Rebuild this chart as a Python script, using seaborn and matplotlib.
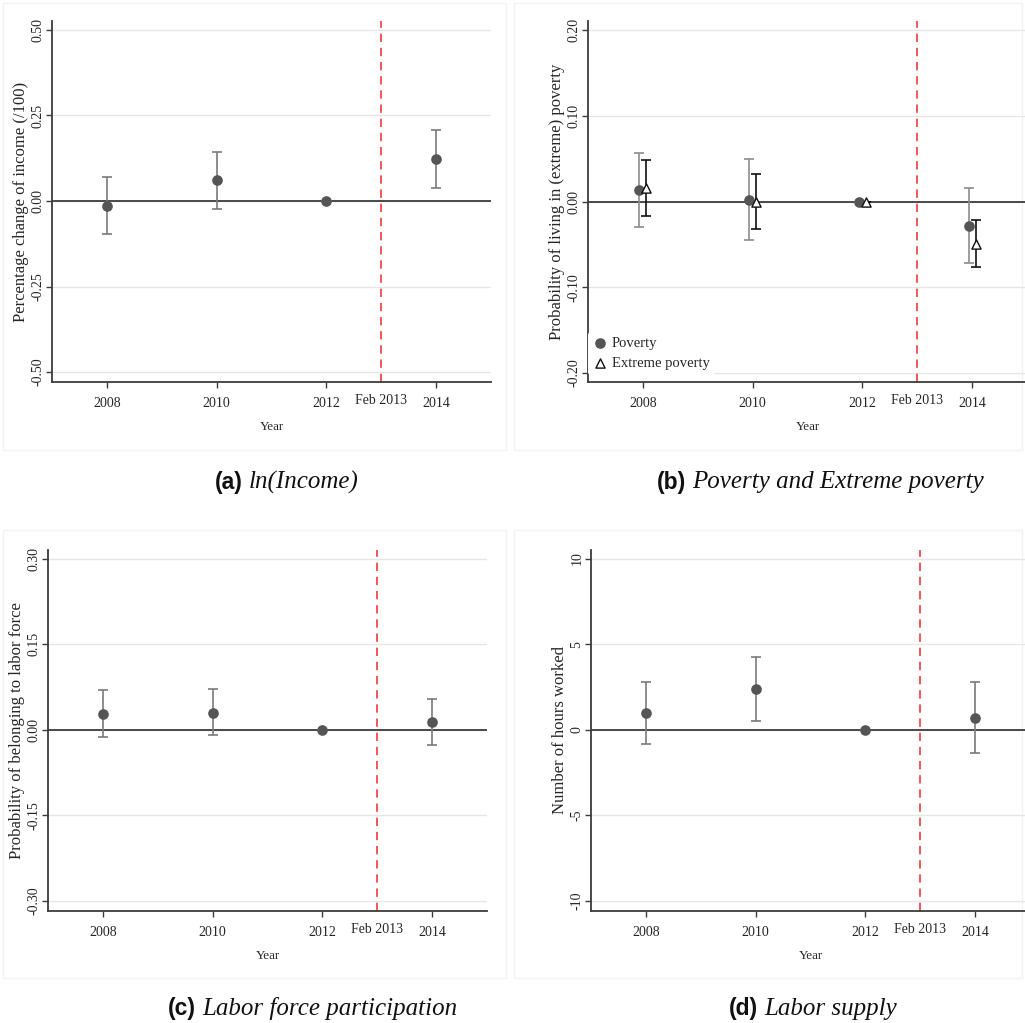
import numpy as np
import pandas as pd
import matplotlib
matplotlib.use("Agg")
import matplotlib.pyplot as plt
import seaborn as sns
from matplotlib.patches import Rectangle

sns.set_theme(style="white")
plt.rcParams["font.family"] = ["Liberation Serif", "DejaVu Serif"]
plt.rcParams["axes.unicode_minus"] = False

years = [2008, 2010, 2012, 2014]
year_labels = ["2008", "2010", "2012", "Feb 2013", "2014"]
tick_years = [2008, 2010, 2012, 2013, 2014]
reform_year = 2013

# (a) ln(Income)
income_coef = [-0.015, 0.060, 0.0, 0.123]
income_lo = [-0.096, -0.023, 0.0, 0.039]
income_hi = [0.069, 0.144, 0.0, 0.208]

# (b) Poverty / Extreme poverty
pov_coef = [0.013, 0.002, 0.0, -0.028]
pov_lo = [-0.030, -0.045, 0.0, -0.072]
pov_hi = [0.057, 0.049, 0.0, 0.016]
ext_coef = [0.016, 0.0, 0.0, -0.049]
ext_lo = [-0.017, -0.032, 0.0, -0.076]
ext_hi = [0.048, 0.032, 0.0, -0.022]

# (c) Labor force participation
lfp_coef = [0.028, 0.030, 0.0, 0.013]
lfp_lo = [-0.013, -0.009, 0.0, -0.027]
lfp_hi = [0.070, 0.071, 0.0, 0.053]

# (d) Labor supply
hours_coef = [0.96, 2.36, 0.0, 0.68]
hours_lo = [-0.86, 0.49, 0.0, -1.35]
hours_hi = [2.81, 4.25, 0.0, 2.79]

DOT = "#555555"
BAR = "#7a7a7a"
AXC = "#3c3c3c"
RED = "#ee3b3b"

W, H = 1025, 1023
fig = plt.figure(figsize=(W / 100, H / 100), dpi=100)

# faint graph-region boxes
for (x0, y0, x1, y1) in [(3, 3, 506, 450), (514, 3, 1022, 450),
                         (3, 530, 506, 978), (514, 530, 1022, 978)]:
    fig.patches.append(Rectangle((x0 / W, 1 - y1 / H), (x1 - x0) / W, (y1 - y0) / H,
                                 transform=fig.transFigure, facecolor="none",
                                 edgecolor="#f2f2f2", lw=1, zorder=-5))


def px_axes(left, top, bottom):
    return fig.add_axes([left / W, 1 - bottom / H, 439 / W, (bottom - top) / H])


def style_axes(ax, ylim, yticks, ylabels, ylab):
    ax.set_facecolor("none")
    ax.set_xlim(2007, 2015)
    ax.set_ylim(*ylim)
    ax.set_yticks(yticks)
    ax.set_yticklabels(ylabels, rotation=90, va="center", fontsize=10)
    for t in yticks:
        ax.axhline(t, color="#e6e6e6", lw=1.0, zorder=0)
    ax.axhline(0, color=AXC, lw=1.3, zorder=1)
    ax.axvline(reform_year, color=RED, lw=1.2, dashes=(5, 3.5), zorder=1)
    ax.set_xticks(tick_years)
    ax.set_xticklabels(year_labels, fontsize=10)
    ax.tick_params(axis="both", direction="out", length=4, width=1, color=AXC,
                   bottom=True, left=True)
    ax.tick_params(axis="y", pad=1.5)
    ax.tick_params(axis="x", pad=7)
    feb = ax.xaxis.get_major_ticks()[3]
    feb.tick1line.set_visible(False)
    feb.set_pad(4.5)
    for s in ["top", "right"]:
        ax.spines[s].set_visible(False)
    for s in ["left", "bottom"]:
        ax.spines[s].set_color(AXC)
        ax.spines[s].set_linewidth(1.3)
    ax.set_xlabel("Year", fontsize=9.4, labelpad=8)
    ax.set_ylabel(ylab, fontsize=12, labelpad=2)


def draw_series(ax, x, coef, lo, hi, marker, face, edge, barcolor, label=None):
    coef = np.array(coef)
    yerr = [coef - np.array(lo), np.array(hi) - coef]
    ax.errorbar(x, coef, yerr=yerr, fmt="none", ecolor=barcolor, elinewidth=1.2,
                capsize=3.5, capthick=1.2, zorder=2)
    df = pd.DataFrame({"year": x, "coef": coef})
    sns.scatterplot(data=df, x="year", y="coef", ax=ax, marker=marker, s=44,
                    color=face, edgecolor=edge, linewidth=1.0, zorder=3, label=label)


# (a)
ax = px_axes(52, 21, 382)
style_axes(ax, (-0.529, 0.526), [-0.5, -0.25, 0, 0.25, 0.5],
           ["-0.50", "-0.25", "0.00", "0.25", "0.50"],
           "Percentage change of income (/100)")
draw_series(ax, years, income_coef, income_lo, income_hi, "o", DOT, DOT, BAR)

# (b)
ax = px_axes(588, 21, 382)
style_axes(ax, (-0.2105, 0.2105), [-0.2, -0.1, 0, 0.1, 0.2],
           ["-0.20", "-0.10", "0.00", "0.10", "0.20"],
           "Probability of living in (extreme) poverty")
shift = 0.065
draw_series(ax, np.array(years) - shift, pov_coef, pov_lo, pov_hi, "o", DOT, DOT,
            "#8c8c8c", label="Poverty")
draw_series(ax, np.array(years) + shift, ext_coef, ext_lo, ext_hi, "^", "white",
            "#111111", "#111111", label="Extreme poverty")
leg = ax.legend(loc="lower left", bbox_to_anchor=(0.0, 0.02), borderaxespad=0,
                frameon=True, facecolor="white", edgecolor="none", framealpha=1,
                fontsize=10.5, handlelength=0.9, handletextpad=0.4, borderpad=0.35,
                labelspacing=0.45)
leg.set_zorder(5)

# (c)
ax = px_axes(48, 550, 911)
style_axes(ax, (-0.318, 0.315), [-0.3, -0.15, 0, 0.15, 0.3],
           ["-0.30", "-0.15", "0.00", "0.15", "0.30"],
           "Probability of belonging to labor force")
draw_series(ax, years, lfp_coef, lfp_lo, lfp_hi, "o", DOT, DOT, BAR)

# (d)
ax = px_axes(591, 550, 911)
style_axes(ax, (-10.6, 10.5), [-10, -5, 0, 5, 10],
           ["-10", "-5", "0", "5", "10"], "Number of hours worked")
draw_series(ax, years, hours_coef, hours_lo, hours_hi, "o", DOT, DOT, BAR)


def caption(xsplit, y, tag, text):
    fig.text(xsplit / W, 1 - y / H, tag, ha="right", va="center", fontsize=16.5,
             family="Liberation Sans", weight="bold", color="#111111")
    fig.text((xsplit + 6) / W, 1 - y / H, text, ha="left", va="center", fontsize=18,
             family="Liberation Serif", style="italic", color="#111111")


caption(243, 482, "(a)", "ln(Income)")
caption(686, 482, "(b)", "Poverty and Extreme poverty")
caption(196, 1009, "(c)", "Labor force participation")
caption(758, 1009, "(d)", "Labor supply")

fig.savefig("out.png", dpi=100, facecolor="white")
